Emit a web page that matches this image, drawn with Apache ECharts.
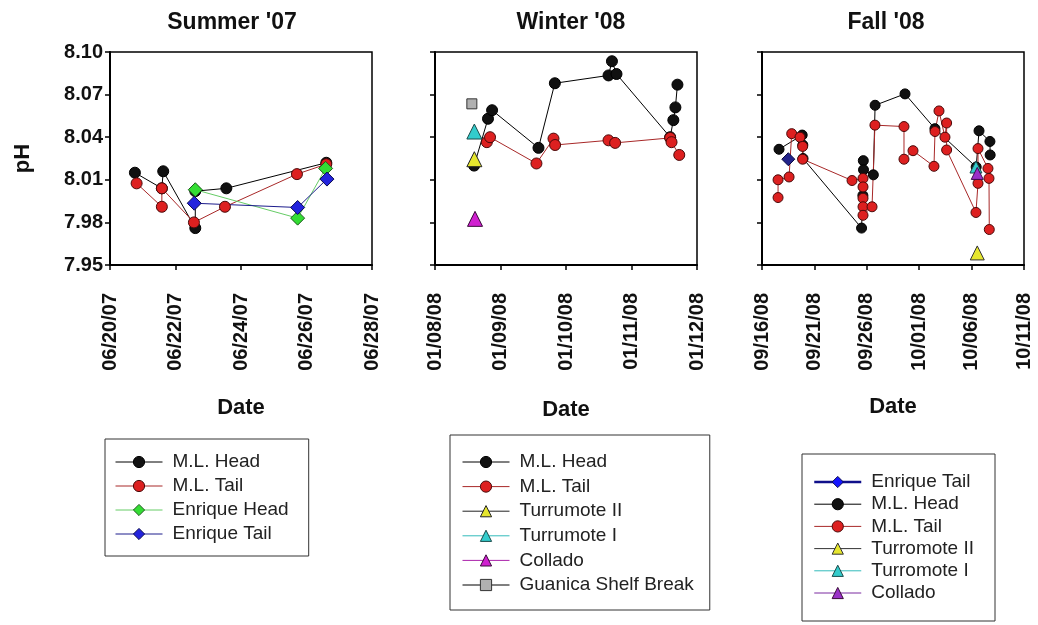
<!DOCTYPE html>
<html>
<head>
<meta charset="utf-8">
<script src="https://cdn.jsdelivr.net/npm/echarts@6/dist/echarts.min.js"></script>
<style>
  html, body { margin: 0; padding: 0; background: #fff; }
  #chart { width: 1038px; height: 625px; }
</style>
</head>
<body>
<div id="chart"></div>
<script>
// ---- Data -------------------------------------------------------------
const panelTitles = ["Summer '07", "Winter '08", "Fall '08"];

// x-axis tick labels (first label is the axis origin) and tick spacing in days
const summerTickLabels = ['06/20/07', '06/22/07', '06/24/07', '06/26/07', '06/28/07'];
const winterTickLabels = ['01/08/08', '01/09/08', '01/10/08', '01/11/08', '01/12/08'];
const fallTickLabels = ['09/16/08', '09/21/08', '09/26/08', '10/01/08', '10/06/08', '10/11/08'];
const summerStart = '2007-06-20', summerStepDays = 2;
const winterStart = '2008-01-08', winterStepDays = 1;
const fallStart = '2008-09-16', fallStepDays = 5;

// pH axis
const phMin = 7.95, phMax = 8.10, phStep = 0.03;

// Summer '07 samples: [date time, pH]
const summerMLHead = [
  ['2007-06-20 18:15', 8.015], ['2007-06-21 14:00', 8.004], ['2007-06-21 15:00', 8.016],
  ['2007-06-22 14:30', 7.976], ['2007-06-22 14:30', 8.002], ['2007-06-23 13:15', 8.004],
  ['2007-06-26 14:30', 8.022]
];
const summerMLTail = [
  ['2007-06-20 19:30', 8.0075], ['2007-06-21 14:00', 7.991], ['2007-06-21 14:00', 8.004],
  ['2007-06-22 13:30', 7.980], ['2007-06-23 12:15', 7.991], ['2007-06-25 17:00', 8.014],
  ['2007-06-26 14:30', 8.021]
];
const summerEnriqueHead = [
  ['2007-06-22 14:30', 8.003], ['2007-06-25 17:30', 7.983], ['2007-06-26 14:00', 8.018]
];
const summerEnriqueTail = [
  ['2007-06-22 13:45', 7.9935], ['2007-06-25 17:30', 7.9905], ['2007-06-26 15:00', 8.0105]
];

// Winter '08 samples
const winterMLHead = [
  ['2008-01-08 14:20', 8.020], ['2008-01-08 19:25', 8.053], ['2008-01-08 20:55', 8.059],
  ['2008-01-09 13:55', 8.0325], ['2008-01-09 19:55', 8.078], ['2008-01-10 15:35', 8.0835],
  ['2008-01-10 16:50', 8.0935], ['2008-01-10 18:30', 8.0845], ['2008-01-11 14:10', 8.040],
  ['2008-01-11 15:20', 8.052], ['2008-01-11 16:05', 8.061], ['2008-01-11 16:50', 8.077]
];
const winterMLTail = [
  ['2008-01-08 19:00', 8.0365], ['2008-01-08 20:10', 8.040], ['2008-01-09 13:10', 8.0215],
  ['2008-01-09 19:25', 8.039], ['2008-01-09 20:00', 8.0345], ['2008-01-10 15:35', 8.0378],
  ['2008-01-10 18:00', 8.036], ['2008-01-11 14:10', 8.0395], ['2008-01-11 14:40', 8.0365],
  ['2008-01-11 17:30', 8.0275]
];
const winterTurrumoteII = [['2008-01-08 14:25', 8.0245]];
const winterTurrumoteI = [['2008-01-08 14:25', 8.044]];
const winterCollado = [['2008-01-08 14:40', 7.9825]];
const winterGuanica = [['2008-01-08 13:30', 8.0635]];

// Fall '08 samples
const fallEnriqueTail = [['2008-09-18 12:15', 8.0245]];
const fallMLHead = [
  ['2008-09-17 15:00', 8.0315], ['2008-09-19 20:00', 8.0415], ['2008-09-19 21:30', 8.0345],
  ['2008-09-19 22:00', 8.025], ['2008-09-25 12:00', 7.976], ['2008-09-25 15:00', 7.999],
  ['2008-09-25 16:00', 8.0235], ['2008-09-25 16:30', 8.017], ['2008-09-26 15:00', 8.0135],
  ['2008-09-26 19:00', 8.0625], ['2008-09-29 15:30', 8.0705], ['2008-10-02 12:00', 8.046],
  ['2008-10-06 10:30', 8.019], ['2008-10-06 17:00', 8.0445], ['2008-10-07 18:00', 8.037],
  ['2008-10-07 18:30', 8.0275]
];
const fallMLTail = [
  ['2008-09-17 12:45', 7.9975], ['2008-09-17 12:45', 8.010], ['2008-09-18 14:00', 8.012],
  ['2008-09-18 20:00', 8.0425], ['2008-09-19 15:00', 8.040], ['2008-09-19 21:00', 8.0335],
  ['2008-09-19 21:00', 8.0245], ['2008-09-24 14:10', 8.0095], ['2008-09-25 15:20', 8.011],
  ['2008-09-25 15:20', 8.005], ['2008-09-25 15:20', 7.997], ['2008-09-25 15:20', 7.991],
  ['2008-09-25 15:20', 7.985], ['2008-09-26 12:00', 7.991], ['2008-09-26 18:40', 8.0485],
  ['2008-09-29 13:10', 8.0475], ['2008-09-29 13:10', 8.0245], ['2008-09-30 09:50', 8.0305],
  ['2008-10-02 09:50', 8.0195], ['2008-10-02 12:15', 8.044], ['2008-10-02 21:20', 8.0585],
  ['2008-10-03 11:00', 8.040], ['2008-10-03 14:50', 8.050], ['2008-10-03 14:50', 8.031],
  ['2008-10-06 10:00', 7.987], ['2008-10-06 14:40', 8.0075], ['2008-10-06 14:40', 8.032],
  ['2008-10-07 13:30', 8.018], ['2008-10-07 15:50', 8.011], ['2008-10-07 16:30', 7.975]
];
const fallTurromoteII = [['2008-10-06 13:00', 7.9585]];
const fallTurromoteI = [['2008-10-06 10:00', 8.019]];
const fallCollado = [['2008-10-06 13:00', 8.0145]];

// ---- Helpers ----------------------------------------------------------
const FONT = '"Liberation Sans", Arial, Helvetica, sans-serif';
const DAY_MS = 86400000;

// days elapsed since the panel's first tick date
function dayOffset(start, stamp) {
  return (Date.parse(stamp.replace(' ', 'T') + ':00Z') - Date.parse(start + 'T00:00:00Z')) / DAY_MS;
}
function toPoints(start, rows) {
  return rows.map(function (r) { return [dayOffset(start, r[0]), r[1]]; });
}

// marker / line styles per station
const styles = {
  mlHead:   { symbol: 'circle',   size: 11, fill: '#111111', border: '#000000', line: '#000000', lw: 1 },
  mlTail:   { symbol: 'circle',   size: 11, fill: '#dd2020', border: '#4a0a0a', line: '#a82828', lw: 1 },
  enrHead:  { symbol: 'diamond',  size: 14, fill: '#33dd33', border: '#1e5a1e', line: '#66cc66', lw: 1 },
  enrTail:  { symbol: 'diamond',  size: 14, fill: '#2323dd', border: '#0a0a50', line: '#1c1c8c', lw: 1 },
  turII:    { symbol: 'triangle', size: 15, fill: '#e6e62e', border: '#222222', line: '#222222', lw: 1 },
  turI:     { symbol: 'triangle', size: 15, fill: '#33cccc', border: '#1a4a4a', line: '#33bbbb', lw: 1 },
  collado:  { symbol: 'triangle', size: 15, fill: '#d020d0', border: '#3a0a3a', line: '#aa22aa', lw: 1 },
  guanica:  { symbol: 'rect',     size: 10, fill: '#b0b0b0', border: '#333333', line: '#000000', lw: 1 },
  fTurII:   { symbol: 'triangle', size: 14, fill: '#e6e62e', border: '#333333', line: '#333333', lw: 1 },
  fTurI:    { symbol: 'triangle', size: 12, fill: '#33cccc', border: '#1a4a4a', line: '#33bbbb', lw: 1 },
  fCollado: { symbol: 'triangle', size: 12, fill: '#9a30c8', border: '#3a0a4a', line: '#7a2aa0', lw: 1 },
  fEnrTail: { symbol: 'diamond',  size: 13, fill: '#23238a', border: '#0a0a40', line: '#1c1c8c', lw: 1 }
};

function makeSeries(name, panel, start, rows, st, sizeOverride) {
  return {
    name: name,
    type: 'line',
    xAxisIndex: panel,
    yAxisIndex: panel,
    data: toPoints(start, rows),
    symbol: st.symbol,
    symbolSize: sizeOverride || st.size,
    showSymbol: true,
    itemStyle: { color: st.fill, borderColor: st.border, borderWidth: 1 },
    lineStyle: { color: st.line, width: st.lw },
    emphasis: { disabled: true },
    animation: false
  };
}

// ---- Layout -----------------------------------------------------------
const plotLefts = [110, 435, 762];
const plotTop = 52, plotWidth = 262, plotHeight = 213;
const titleCenters = [232, 571, 886];
const dateNameGaps = [132, 134, 131];
const tickSets = [
  { labels: summerTickLabels, step: summerStepDays },
  { labels: winterTickLabels, step: winterStepDays },
  { labels: fallTickLabels, step: fallStepDays }
];

const grids = plotLefts.map(function (l) {
  return { left: l, top: plotTop, width: plotWidth, height: plotHeight,
           show: true, borderColor: '#000', borderWidth: 1.5, backgroundColor: 'transparent' };
});

const xAxes = tickSets.map(function (t, i) {
  return {
    gridIndex: i, type: 'value',
    min: 0, max: t.step * (t.labels.length - 1), interval: t.step,
    axisLine: { show: true, onZero: false, lineStyle: { color: '#000', width: 2 } },
    axisTick: { show: true, inside: false, length: 5, lineStyle: { color: '#000', width: 1.5 } },
    splitLine: { show: false },
    axisLabel: {
      rotate: 90, margin: 28, fontFamily: FONT, fontWeight: 'bold', fontSize: 20, color: '#111',
      showMinLabel: true, showMaxLabel: true,
      formatter: function (v) { return t.labels[Math.round(v / t.step)]; }
    },
    name: 'Date', nameLocation: 'middle', nameGap: dateNameGaps[i],
    nameTextStyle: { fontFamily: FONT, fontWeight: 'bold', fontSize: 22, color: '#111' }
  };
});

const yAxes = [0, 1, 2].map(function (i) {
  return {
    gridIndex: i, type: 'value', min: phMin, max: phMax, interval: phStep,
    axisLine: { show: true, onZero: false, lineStyle: { color: '#000', width: 2 } },
    axisTick: { show: true, inside: false, length: 5, lineStyle: { color: '#000', width: 1.5 } },
    splitLine: { show: false },
    axisLabel: {
      show: i === 0, margin: 7, fontFamily: FONT, fontWeight: 'bold', fontSize: 20, color: '#111',
      formatter: function (v) { return v.toFixed(2); }
    },
    name: i === 0 ? 'pH' : '', nameLocation: 'middle', nameGap: 76, nameRotate: 90,
    nameTextStyle: { fontFamily: FONT, fontWeight: 'bold', fontSize: 22, color: '#111' }
  };
});

const series = [
  makeSeries('M.L. Head', 0, summerStart, summerMLHead, styles.mlHead),
  makeSeries('M.L. Tail', 0, summerStart, summerMLTail, styles.mlTail),
  makeSeries('Enrique Head', 0, summerStart, summerEnriqueHead, styles.enrHead),
  makeSeries('Enrique Tail', 0, summerStart, summerEnriqueTail, styles.enrTail),

  makeSeries('M.L. Head', 1, winterStart, winterMLHead, styles.mlHead),
  makeSeries('M.L. Tail', 1, winterStart, winterMLTail, styles.mlTail),
  makeSeries('Turrumote II', 1, winterStart, winterTurrumoteII, styles.turII),
  makeSeries('Turrumote I', 1, winterStart, winterTurrumoteI, styles.turI),
  makeSeries('Collado', 1, winterStart, winterCollado, styles.collado),
  makeSeries('Guanica Shelf Break', 1, winterStart, winterGuanica, styles.guanica),

  makeSeries('Enrique Tail', 2, fallStart, fallEnriqueTail, styles.fEnrTail),
  makeSeries('M.L. Head', 2, fallStart, fallMLHead, styles.mlHead, 10),
  makeSeries('M.L. Tail', 2, fallStart, fallMLTail, styles.mlTail, 10),
  makeSeries('Turromote II', 2, fallStart, fallTurromoteII, styles.fTurII),
  makeSeries('Turromote I', 2, fallStart, fallTurromoteI, styles.fTurI),
  makeSeries('Collado', 2, fallStart, fallCollado, styles.fCollado)
];

function legendBox(items, left, top, padding, itemGap) {
  return {
    data: items, orient: 'vertical', left: left, top: top, padding: padding,
    itemWidth: 47, itemHeight: 14, itemGap: itemGap,
    borderColor: '#333', borderWidth: 1, backgroundColor: '#fff',
    selectedMode: false,
    itemStyle: { borderWidth: 1 },
    lineStyle: { width: 1 },
    textStyle: { fontFamily: FONT, fontSize: 19, color: '#222', lineHeight: 20, padding: [0, 0, 0, 5] }
  };
}

const legends = [
  legendBox(['M.L. Head', 'M.L. Tail', 'Enrique Head', 'Enrique Tail'],
            105, 439, [13, 20, 12, 10], 4),
  legendBox(['M.L. Head', 'M.L. Tail', 'Turrumote II', 'Turrumote I', 'Collado', 'Guanica Shelf Break'],
            450, 435, [17, 16, 15, 12], 4.6),
  legendBox([
    { name: 'Enrique Tail', lineStyle: { width: 2.5, color: '#10108a' }, itemStyle: { color: '#1515ff' } },
    'M.L. Head', 'M.L. Tail', 'Turromote II', 'Turromote I',
    { name: 'Collado', itemStyle: { color: '#9a30c8' }, lineStyle: { color: '#7a2aa0' } }
  ], 802, 454, [18, 21, 18, 11], 2.2)
];

const chart = echarts.init(document.getElementById('chart'), null, { renderer: 'canvas' });
chart.setOption({
  backgroundColor: '#fff',
  animation: false,
  title: panelTitles.map(function (t, i) {
    return {
      text: t, left: titleCenters[i], top: 11, textAlign: 'center', textVerticalAlign: 'top', padding: 0,
      textStyle: { fontFamily: FONT, fontWeight: 'bold', fontSize: 23, color: '#111' }
    };
  }),
  grid: grids,
  xAxis: xAxes,
  yAxis: yAxes,
  legend: legends,
  series: series
});
</script>
</body>
</html>
